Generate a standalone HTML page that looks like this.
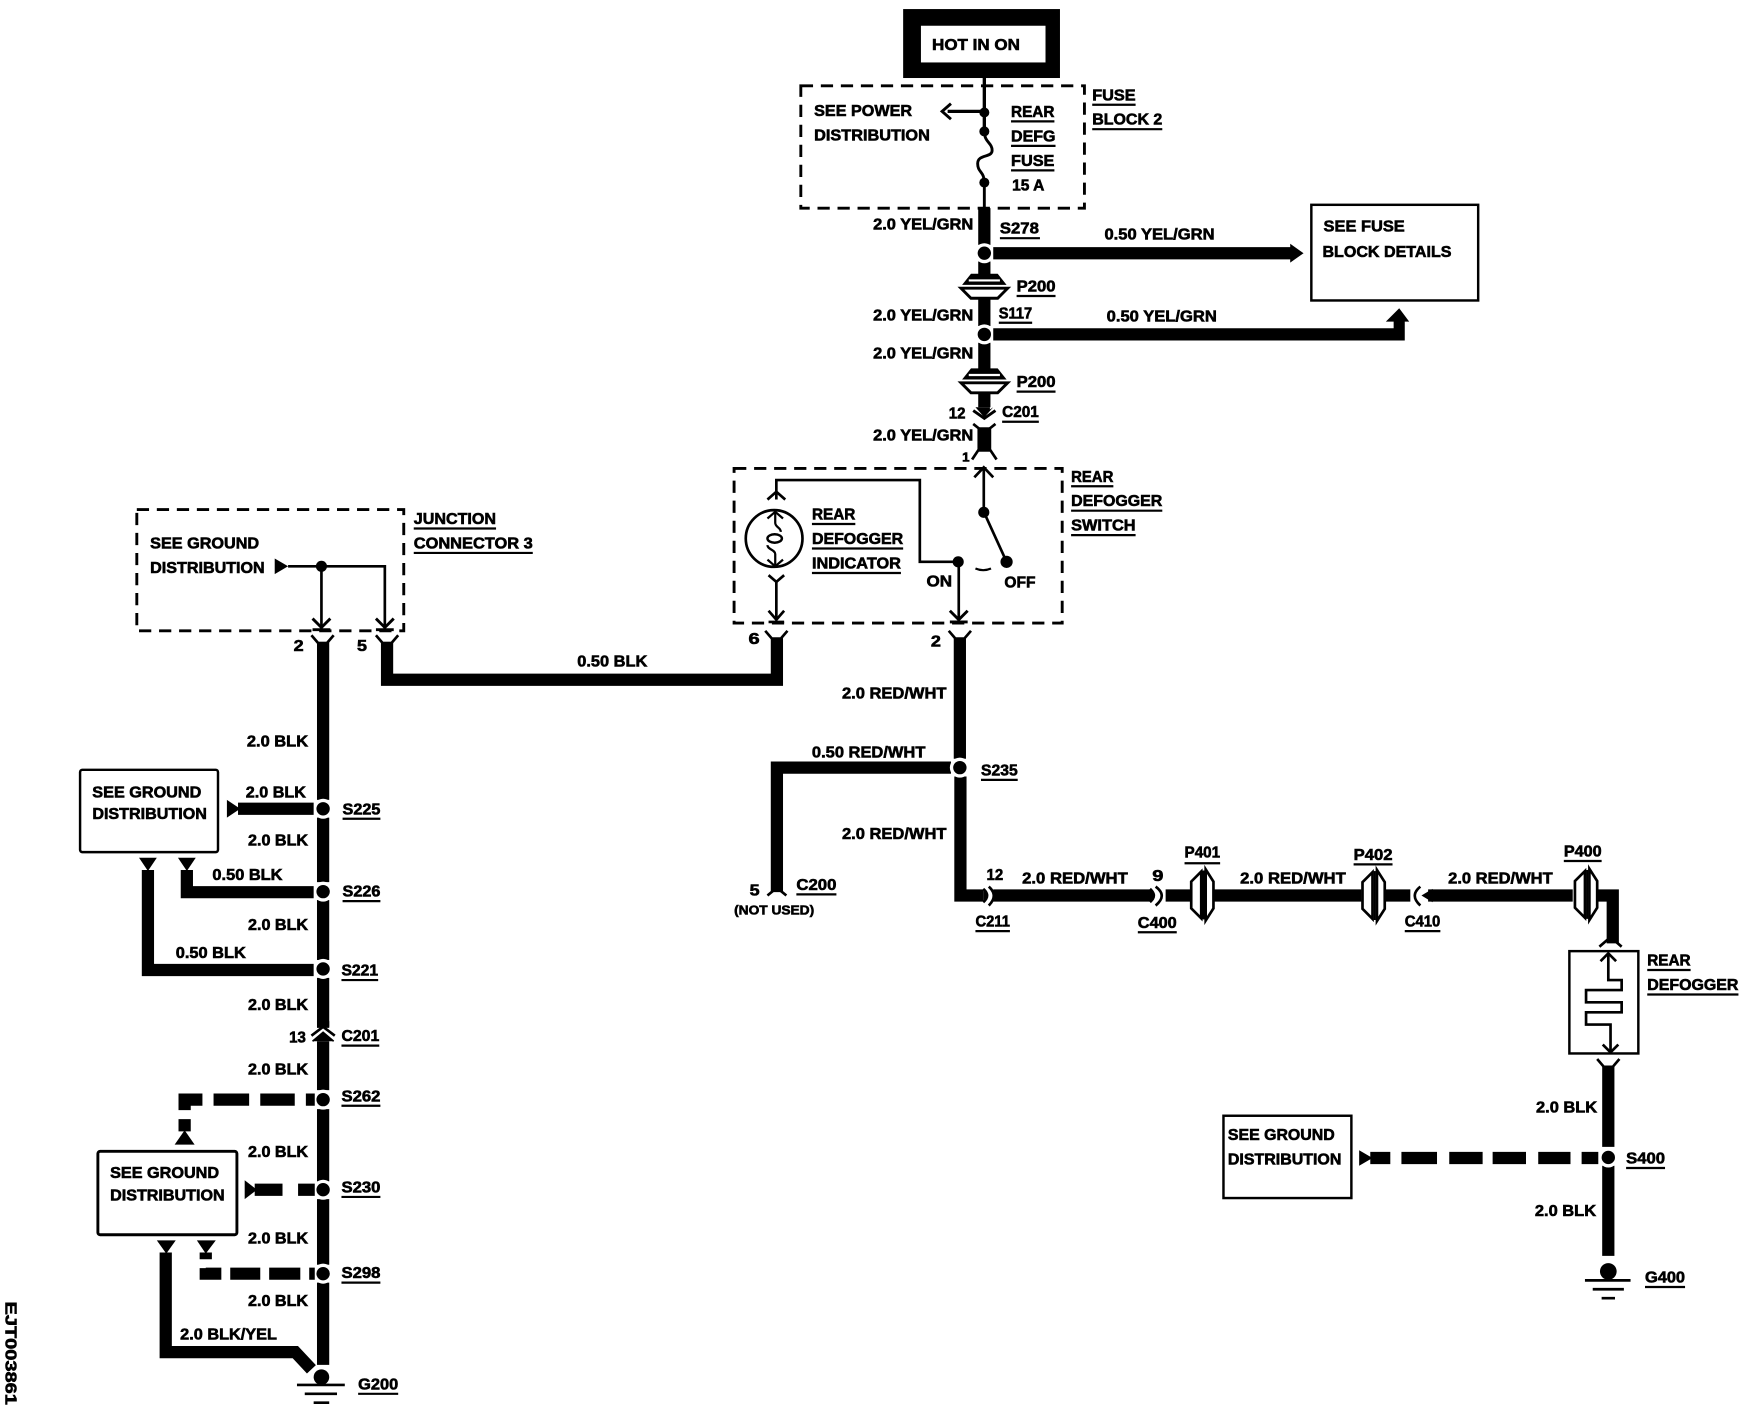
<!DOCTYPE html>
<html><head><meta charset="utf-8"><title>Rear Defogger Wiring Diagram</title>
<style>
html,body{margin:0;padding:0;background:#fff;width:1744px;height:1424px;overflow:hidden}
svg{display:block}
text{font-family:"Liberation Sans",sans-serif;font-weight:700;font-size:14.5px;fill:#000;stroke:#000;stroke-width:.55px}
.w{fill:none;stroke:#000;stroke-width:11}
.t{fill:none;stroke:#000;stroke-width:2.4}
.u{fill:none;stroke:#000;stroke-width:2}
.d{fill:none;stroke:#000;stroke-width:2.6;stroke-dasharray:11 7}
.b{fill:#fff;stroke:#000;stroke-width:2.2}
</style></head><body>
<svg width="1744" height="1424" viewBox="0 0 1568 1280" xmlns="http://www.w3.org/2000/svg">
<defs>
<g id="dot"><circle r="9" fill="#fff"/><circle r="6" fill="#000"/></g>
<g id="cup"><path d="M-10,-3 L-4,4 H4 L10,-3" fill="none" stroke="#000" stroke-width="2.4"/></g>
<g id="pv"><path d="M-20,-2 L-12,-12 H12 L20,-2Z" fill="#000"/><path d="M-14,-6 H14" stroke="#fff" stroke-width="2"/><path d="M-21,1 H21 L12,10 H-12Z" fill="#fff" stroke="#000" stroke-width="2.6"/></g>
<g id="ph"><path d="M-1,-21 L-10,-12 V12 L-1,21Z" fill="#fff" stroke="#000" stroke-width="2.4"/><path d="M3,-23 L10,-12 V12 L3,23Z" fill="#fff" stroke="#000" stroke-width="2.4"/><path d="M1,-22 V22" stroke="#000" stroke-width="2"/></g>
</defs>

<!-- Hot box -->
<rect x="812" y="8" width="141" height="62" fill="#000"/>
<rect x="828" y="23" width="112" height="33" fill="#fff"/>
<text x="838" y="45" textLength="79" lengthAdjust="spacingAndGlyphs">HOT IN ON</text>

<!-- Fuse block -->
<rect x="720" y="77" width="255" height="110" class="d"/>
<path class="t" d="M885,70 V118 M885,100 H852" style="stroke-width:3"/>
<path d="M855,93 L847,100 L855,107" fill="none" stroke="#000" stroke-width="2.6"/>
<circle cx="885" cy="101" r="4.5"/><circle cx="885" cy="118" r="4.5"/><circle cx="885" cy="164" r="4.5"/>
<path class="t" d="M885,118 C885,128 892,128 892,135 C892,142 879,138 879,147 C879,155 885,154 885,164 V187" style="stroke-width:2.6"/>
<text x="732" y="104" textLength="88" lengthAdjust="spacingAndGlyphs">SEE POWER</text>
<text x="732" y="126" textLength="104" lengthAdjust="spacingAndGlyphs">DISTRIBUTION</text>
<text x="909" y="105" textLength="39" lengthAdjust="spacingAndGlyphs">REAR</text>
<text x="909" y="127" textLength="40" lengthAdjust="spacingAndGlyphs">DEFG</text>
<text x="909" y="149" textLength="39" lengthAdjust="spacingAndGlyphs">FUSE</text>
<text x="910" y="171" textLength="29" lengthAdjust="spacingAndGlyphs">15 A</text>
<path class="u" d="M909,109 H948 M909,131 H949 M909,153 H948"/>
<text x="982" y="90" textLength="39" lengthAdjust="spacingAndGlyphs">FUSE</text>
<text x="982" y="112" textLength="63" lengthAdjust="spacingAndGlyphs">BLOCK 2</text>
<path class="u" d="M982,94 H1021 M982,116 H1045"/>

<!-- Vertical yel/grn -->
<path class="w" d="M885,187 V220 M885,235 V248 M885,268 V293 M885,308 V333 M885,352 V366"/>
<use href="#dot" x="885" y="227.500"/><use href="#dot" x="885" y="300.500"/>
<path d="M893,222 H1160 V219 L1172,227.500 L1160,236 V233 H893Z" fill="#000"/>
<path d="M893,295 H1253 V289 H1246 L1258,277 L1267,289 H1263 V306 H893Z" fill="#000"/>
<use href="#pv" x="885" y="258"/><use href="#pv" x="885" y="343"/>
<path d="M880,366 H890 V368 L893,366 L885,375 L877,366Z" fill="#000"/>
<path d="M875,369 L885,376 L895,369" fill="none" stroke="#000" stroke-width="2.6"/>
<path d="M875,381 L880,385 V404 L874,413 M895,381 L890,385 V404 L896,413" fill="none" stroke="#000" stroke-width="2.4"/>
<rect x="880" y="384" width="10" height="22"/>

<rect x="1179" y="184" width="150" height="86" class="b"/>
<text x="1190" y="208" textLength="73" lengthAdjust="spacingAndGlyphs">SEE FUSE</text>
<text x="1189" y="231" textLength="116" lengthAdjust="spacingAndGlyphs">BLOCK DETAILS</text>
<text x="785" y="206" textLength="90" lengthAdjust="spacingAndGlyphs">2.0 YEL/GRN</text>
<text x="785" y="288" textLength="90" lengthAdjust="spacingAndGlyphs">2.0 YEL/GRN</text>
<text x="785" y="322" textLength="90" lengthAdjust="spacingAndGlyphs">2.0 YEL/GRN</text>
<text x="785" y="396" textLength="90" lengthAdjust="spacingAndGlyphs">2.0 YEL/GRN</text>
<text x="899" y="210" textLength="35" lengthAdjust="spacingAndGlyphs">S278</text><path class="u" d="M899,214 H935"/>
<text x="993" y="215" textLength="99" lengthAdjust="spacingAndGlyphs">0.50 YEL/GRN</text>
<text x="995" y="289" textLength="99" lengthAdjust="spacingAndGlyphs">0.50 YEL/GRN</text>
<text x="914" y="262" textLength="35" lengthAdjust="spacingAndGlyphs">P200</text><path class="u" d="M914,266 H949"/>
<text x="914" y="348" textLength="35" lengthAdjust="spacingAndGlyphs">P200</text><path class="u" d="M914,352 H949"/>
<text x="898" y="286" textLength="30" lengthAdjust="spacingAndGlyphs">S117</text><path class="u" d="M898,290 H928"/>
<text x="853" y="376" textLength="15" lengthAdjust="spacingAndGlyphs">12</text>
<text x="901" y="375" textLength="33" lengthAdjust="spacingAndGlyphs">C201</text><path class="u" d="M901,379 H934"/>
<text x="865" y="415" style="font-size:12px">1</text>

<!-- Switch -->
<rect x="660" y="421" width="295" height="139" class="d"/>
<path d="M876,429 L884.500,420 L893,429" fill="none" stroke="#000" stroke-width="2.4"/>
<path class="t" d="M884.500,422 V460 L905,505"/>
<circle cx="884.500" cy="460.500" r="5"/><circle cx="905" cy="505" r="5.5"/>
<path d="M877,511 Q884,514 891,511" fill="none" stroke="#000" stroke-width="2"/>
<path class="t" d="M698,449 V431.500 H827 V505 H862 V556"/>
<path d="M690,449 L698,442 L706,449" fill="none" stroke="#000" stroke-width="2.4"/>
<circle cx="861.500" cy="505" r="5"/>
<path d="M854,549 L862,557 L870,549 M854,559 H870" fill="none" stroke="#000" stroke-width="2.6"/>
<circle cx="696" cy="484" r="25.500" fill="#fff" stroke="#000" stroke-width="2.4"/>
<path class="t" d="M697,460 V470 C697,474 702,474 702,478 M690,490 C690,494 697,494 697,498 V508" style="stroke-width:2"/>
<ellipse cx="696.500" cy="484" rx="6.500" ry="3.800" fill="none" stroke="#000" stroke-width="2.2"/>
<path d="M690,466 L697,460 L704,466 M690,503 L697,509 L704,503" fill="none" stroke="#000" stroke-width="2"/>
<path class="t" d="M698,522 V556"/>
<path d="M691,517 L698,523 L705,517 M691,549 L698,557 L705,549 M691,559 H705" fill="none" stroke="#000" stroke-width="2.4"/>
<text x="730" y="467" textLength="39" lengthAdjust="spacingAndGlyphs">REAR</text>
<text x="730" y="489" textLength="82" lengthAdjust="spacingAndGlyphs">DEFOGGER</text>
<text x="730" y="511" textLength="80" lengthAdjust="spacingAndGlyphs">INDICATOR</text>
<path class="u" d="M730,471 H769 M730,493 H812 M730,515 H810"/>
<text x="963" y="433" textLength="38" lengthAdjust="spacingAndGlyphs">REAR</text>
<text x="963" y="455" textLength="82" lengthAdjust="spacingAndGlyphs">DEFOGGER</text>
<text x="963" y="477" textLength="58" lengthAdjust="spacingAndGlyphs">SWITCH</text>
<path class="u" d="M963,437 H1001 M963,459 H1045 M963,481 H1021"/>
<text x="833" y="527" textLength="23" lengthAdjust="spacingAndGlyphs">ON</text>
<text x="903" y="528" textLength="28" lengthAdjust="spacingAndGlyphs">OFF</text>

<!-- Wires below switch -->
<use href="#cup" x="698" y="570"/><use href="#cup" x="863" y="570"/>
<use href="#cup" x="348" y="574"/><use href="#cup" x="290" y="574"/>
<path class="w" d="M698.500,573 V611 H348 V577"/>
<path class="w" d="M863,573 V682 M863.500,698 V805 H884"/>
<path class="w" d="M855,690 H698.500 V802"/>
<use href="#dot" x="863" y="690"/>
<path d="M690,805 L698.500,798 L707,805" fill="none" stroke="#000" stroke-width="2.4"/>
<path d="M884,799 Q891,805 884,811" fill="#000" stroke="#000" stroke-width="2.4"/>
<path d="M889,797 Q898,805 889,814" fill="none" stroke="#000" stroke-width="2.4"/>
<text x="673" y="579" textLength="10" lengthAdjust="spacingAndGlyphs">6</text>
<text x="837" y="581" textLength="9" lengthAdjust="spacingAndGlyphs">2</text>
<text x="519" y="599" textLength="63" lengthAdjust="spacingAndGlyphs">0.50 BLK</text>
<text x="757" y="628" textLength="94" lengthAdjust="spacingAndGlyphs">2.0 RED/WHT</text>
<text x="730" y="681" textLength="102" lengthAdjust="spacingAndGlyphs">0.50 RED/WHT</text>
<text x="882" y="697" textLength="33" lengthAdjust="spacingAndGlyphs">S235</text><path class="u" d="M882,701 H915"/>
<text x="757" y="754" textLength="94" lengthAdjust="spacingAndGlyphs">2.0 RED/WHT</text>
<text x="674" y="805" textLength="9" lengthAdjust="spacingAndGlyphs">5</text>
<text x="716" y="800" textLength="36" lengthAdjust="spacingAndGlyphs">C200</text><path class="u" d="M716,804 H752"/>
<text x="660" y="822" textLength="72" lengthAdjust="spacingAndGlyphs" style="font-size:12px">(NOT USED)</text>
<text x="887" y="791" textLength="15" lengthAdjust="spacingAndGlyphs">12</text>
<text x="919" y="794" textLength="95" lengthAdjust="spacingAndGlyphs">2.0 RED/WHT</text>
<text x="1036" y="792" textLength="10" lengthAdjust="spacingAndGlyphs">9</text>
<text x="877" y="833" textLength="31" lengthAdjust="spacingAndGlyphs">C211</text><path class="u" d="M877,837 H908"/>
<text x="1023" y="834" textLength="35" lengthAdjust="spacingAndGlyphs">C400</text><path class="u" d="M1023,838 H1058"/>

<!-- Horizontal run -->
<path class="w" d="M893,805 H1035 M1048,805 H1071 M1091,805 H1224 M1246,805 H1268 M1284,805 H1414 M1437,805 H1450 V848"/>
<path d="M1034,799 Q1041,805 1034,811" fill="#000" stroke="#000" stroke-width="2.2"/>
<path d="M1039,797 Q1050,805 1039,814" fill="none" stroke="#000" stroke-width="2.4"/>
<path d="M1277,797 Q1267,805 1277,814" fill="none" stroke="#000" stroke-width="2.4"/>
<path d="M1288,799 L1278,805 L1288,811Z" fill="#000"/>
<use href="#ph" x="1081" y="804.500"/><use href="#ph" x="1235" y="805"/><use href="#ph" x="1426" y="804"/>
<path class="u" d="M1065,776 H1097 M1217,777 H1252 M1406,774 H1440 M1263,837 H1295"/>
<text x="1065" y="771" textLength="32" lengthAdjust="spacingAndGlyphs">P401</text>
<text x="1217" y="773" textLength="35" lengthAdjust="spacingAndGlyphs">P402</text>
<text x="1406" y="770" textLength="34" lengthAdjust="spacingAndGlyphs">P400</text>
<text x="1263" y="833" textLength="32" lengthAdjust="spacingAndGlyphs">C410</text>
<text x="1115" y="794" textLength="95" lengthAdjust="spacingAndGlyphs">2.0 RED/WHT</text>
<text x="1302" y="794" textLength="94" lengthAdjust="spacingAndGlyphs">2.0 RED/WHT</text>

<!-- Defogger -->
<path d="M1438,851 L1445,845 H1451 L1458,851" fill="none" stroke="#000" stroke-width="2.4"/>
<rect x="1411" y="855" width="62" height="92" class="b"/>
<path class="t" d="M1446,857 V881 H1458 V890 H1426 V901 H1458 V910 H1426 V921 H1448 V945"/>
<path d="M1439,864 L1446,857 L1453,864 M1441,939 L1448,946 L1455,939" fill="none" stroke="#000" stroke-width="2.4"/>
<text x="1481" y="868" textLength="39" lengthAdjust="spacingAndGlyphs">REAR</text>
<text x="1481" y="890" textLength="82" lengthAdjust="spacingAndGlyphs">DEFOGGER</text>
<path class="u" d="M1481,872 H1520 M1481,894 H1563"/>
<use href="#cup" x="1446" y="955"/>
<path class="w" d="M1446,958 V1031 M1446,1048 V1129"/>
<use href="#dot" x="1446" y="1040.500"/>
<circle cx="1446" cy="1143" r="7.500"/>
<path class="t" d="M1425,1151 H1466 M1432,1159 H1460 M1440,1167 H1452"/>
<text x="1381" y="1000" textLength="55" lengthAdjust="spacingAndGlyphs">2.0 BLK</text>
<text x="1380" y="1093" textLength="55" lengthAdjust="spacingAndGlyphs">2.0 BLK</text>
<text x="1462" y="1046" textLength="35" lengthAdjust="spacingAndGlyphs">S400</text><path class="u" d="M1462,1050 H1497"/>
<text x="1479" y="1153" textLength="36" lengthAdjust="spacingAndGlyphs">G400</text><path class="u" d="M1479,1157 H1515"/>
<rect x="1100" y="1003" width="115" height="74" class="b"/>
<text x="1104" y="1025" textLength="96" lengthAdjust="spacingAndGlyphs">SEE GROUND</text>
<text x="1104" y="1047" textLength="102" lengthAdjust="spacingAndGlyphs">DISTRIBUTION</text>
<path d="M1222,1034 L1234,1041 L1222,1048Z" fill="#000"/>
<path class="w" d="M1232,1041 H1250 M1260,1041 H1292 M1303,1041 H1333 M1342,1041 H1372 M1383,1041 H1412 M1422,1041 H1437"/>

<!-- Junction connector -->
<rect x="123" y="458" width="240" height="109" class="d"/>
<text x="135" y="493" textLength="98" lengthAdjust="spacingAndGlyphs">SEE GROUND</text>
<text x="135" y="515" textLength="103" lengthAdjust="spacingAndGlyphs">DISTRIBUTION</text>
<path d="M247,502 L259,509 L247,516Z" fill="#000"/>
<path class="t" d="M259,509 H346 V563 M289,509 V563"/>
<circle cx="289" cy="509" r="5"/>
<path d="M281,556 L289,564 L297,556 M281,566 H297 M338,556 L346,564 L354,556 M338,566 H354" fill="none" stroke="#000" stroke-width="2.6"/>
<text x="372" y="471" textLength="74" lengthAdjust="spacingAndGlyphs">JUNCTION</text>
<text x="372" y="493" textLength="107" lengthAdjust="spacingAndGlyphs">CONNECTOR 3</text>
<path class="u" d="M372,475 H446 M372,497 H479"/>
<text x="264" y="585" textLength="9" lengthAdjust="spacingAndGlyphs">2</text>
<text x="321" y="585" textLength="9" lengthAdjust="spacingAndGlyphs">5</text>

<!-- Main ground column -->
<path class="w" d="M290.500,577 V719 M290.500,735 V793 M290.500,809 V863 M290.500,879 V924 M290.500,936 V980 M290.500,997 V1062 M290.500,1078 V1137 M290.500,1153 V1227"/>
<use href="#dot" x="290.500" y="727"/><use href="#dot" x="290.500" y="801.500"/><use href="#dot" x="290.500" y="871"/>
<use href="#dot" x="290.500" y="988.500"/><use href="#dot" x="290.500" y="1069.500"/><use href="#dot" x="290.500" y="1145"/>
<path d="M281,936 L290.500,928 L300,936" fill="#000" stroke="#000" stroke-width="1.5"/>
<path d="M280,931 L290.500,923 L301,931" fill="none" stroke="#000" stroke-width="2.4"/>
<rect x="285" y="918" width="11" height="5" fill="#000"/>
<text x="260" y="937" textLength="15" lengthAdjust="spacingAndGlyphs">13</text>
<text x="307" y="936" textLength="34" lengthAdjust="spacingAndGlyphs">C201</text><path class="u" d="M307,940 H341"/>

<text x="222" y="671" textLength="55" lengthAdjust="spacingAndGlyphs">2.0 BLK</text>
<text x="221" y="717" textLength="54" lengthAdjust="spacingAndGlyphs">2.0 BLK</text>
<text x="223" y="760" textLength="54" lengthAdjust="spacingAndGlyphs">2.0 BLK</text>
<text x="223" y="836" textLength="54" lengthAdjust="spacingAndGlyphs">2.0 BLK</text>
<text x="223" y="908" textLength="54" lengthAdjust="spacingAndGlyphs">2.0 BLK</text>
<text x="223" y="966" textLength="54" lengthAdjust="spacingAndGlyphs">2.0 BLK</text>
<text x="223" y="1040" textLength="54" lengthAdjust="spacingAndGlyphs">2.0 BLK</text>
<text x="223" y="1118" textLength="54" lengthAdjust="spacingAndGlyphs">2.0 BLK</text>
<text x="223" y="1174" textLength="54" lengthAdjust="spacingAndGlyphs">2.0 BLK</text>
<text x="191" y="791" textLength="63" lengthAdjust="spacingAndGlyphs">0.50 BLK</text>
<text x="158" y="861" textLength="63" lengthAdjust="spacingAndGlyphs">0.50 BLK</text>
<text x="162" y="1204" textLength="87" lengthAdjust="spacingAndGlyphs">2.0 BLK/YEL</text>
<text x="308" y="732" textLength="34" lengthAdjust="spacingAndGlyphs">S225</text><path class="u" d="M308,736 H342"/>
<text x="308" y="806" textLength="34" lengthAdjust="spacingAndGlyphs">S226</text><path class="u" d="M308,810 H342"/>
<text x="307" y="877" textLength="33" lengthAdjust="spacingAndGlyphs">S221</text><path class="u" d="M307,881 H340"/>
<text x="307" y="990" textLength="35" lengthAdjust="spacingAndGlyphs">S262</text><path class="u" d="M307,994 H342"/>
<text x="307" y="1072" textLength="35" lengthAdjust="spacingAndGlyphs">S230</text><path class="u" d="M307,1076 H342"/>
<text x="307" y="1149" textLength="35" lengthAdjust="spacingAndGlyphs">S298</text><path class="u" d="M307,1153 H342"/>
<text x="322" y="1249" textLength="36" lengthAdjust="spacingAndGlyphs">G200</text><path class="u" d="M322,1253 H358"/>

<!-- Upper ground box -->
<rect x="72" y="692" width="124" height="74" class="b" rx="2"/>
<text x="83" y="717" textLength="98" lengthAdjust="spacingAndGlyphs">SEE GROUND</text>
<text x="83" y="736" textLength="103" lengthAdjust="spacingAndGlyphs">DISTRIBUTION</text>
<path d="M204,719 L216,727 L204,735Z" fill="#000"/>
<path class="w" d="M214,727 H282"/>
<path d="M125,771 H141 L133,783Z M160,771 H176 L168,783Z" fill="#000"/>
<path class="w" d="M168,782 V802 H282"/>
<path class="w" d="M133,782 V872 H282"/>

<!-- Lower ground box -->
<path class="w" d="M283,988.500 H275 M265,988.500 H234 M224,988.500 H192 M182,988.500 H166 V998 M166,1006 V1017"/>
<path d="M157,1029 L166,1016 L175,1029Z" fill="#000"/>
<rect x="88" y="1035" width="125" height="75" class="b" style="stroke-width:2.6" rx="2"/>
<text x="99" y="1059" textLength="98" lengthAdjust="spacingAndGlyphs">SEE GROUND</text>
<text x="99" y="1079" textLength="103" lengthAdjust="spacingAndGlyphs">DISTRIBUTION</text>
<path d="M220,1061 L231,1069.500 L220,1078Z" fill="#000"/>
<path class="w" d="M229,1069.500 H254 M268,1069.500 H283"/>
<path d="M141,1115 H158 L149.500,1127Z M177,1115 H194 L185,1127Z" fill="#000"/>
<path class="w" d="M149,1126 V1215.500 H265.500 L280,1231"/>
<path class="w" d="M185,1126 V1132 M185,1140 V1145 H199 M207,1145 H234 M242,1145 H270 M278,1145 H283"/>
<circle cx="289" cy="1238" r="7"/>
<path class="t" d="M267,1245 H310 M274,1253 H303 M282,1261 H296"/>

<!-- Figure code -->
<text transform="translate(5,1170) rotate(90)" textLength="93" lengthAdjust="spacingAndGlyphs">EJT003861</text>
</svg>
</body></html>
